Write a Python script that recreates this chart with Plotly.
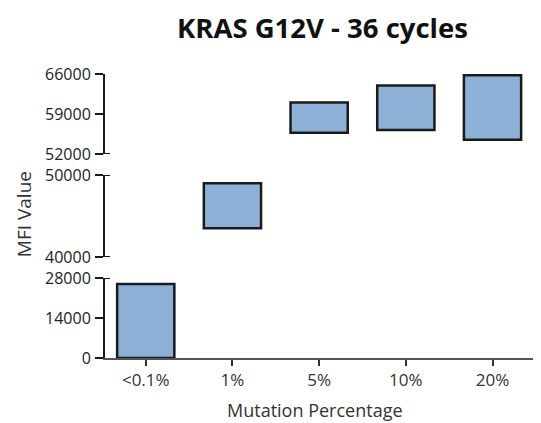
import plotly.graph_objects as go

categories = ["<0.1%", "1%", "5%", "10%", "20%"]
low_vals = [0, 43500, 55700, 56200, 54500]
high_vals = [25900, 49000, 61000, 64000, 65800]

# broken y-axis segments: (range, ticks)
seg_ranges = [[0, 28000], [40000, 50000], [52000, 66000]]
seg_ticks = [[0, 14000, 28000], [40000, 50000], [52000, 59000, 66000]]
seg_domains = [[0.0, 0.2817], [0.3556, 0.6444], [0.7183, 1.0]]
axis_names = ["y", "y2", "y3"]

fig = go.Figure()
for si, (rng, name) in enumerate(zip(seg_ranges, axis_names)):
    xs, bases, heights = [], [], []
    for c, lo, hi in zip(categories, low_vals, high_vals):
        if lo >= rng[0] and hi <= rng[1]:
            xs.append(c)
            bases.append(lo)
            heights.append(hi - lo)
    fig.add_trace(go.Bar(
        x=xs, y=heights, base=bases, yaxis=name, xaxis="x",
        width=0.66,
        marker=dict(color="#8DB0D7", line=dict(color="#1a1a1a", width=2.5)),
        showlegend=False, hoverinfo="skip",
    ))

ytickfont = dict(family="Open Sans", size=16, color="#222")
xtickfont = dict(family="Open Sans", size=17, color="#333")
layout_axes = {}
for si, name in enumerate(axis_names):
    key = "yaxis" if name == "y" else "yaxis" + name[1:]
    layout_axes[key] = dict(
        domain=seg_domains[si], range=seg_ranges[si], tickvals=seg_ticks[si],
        ticktext=[str(v) for v in seg_ticks[si]],
        showgrid=False, zeroline=False, showline=True, linecolor="#1a1a1a",
        linewidth=2, ticks="outside", ticklen=8, tickwidth=2, tickcolor="#1a1a1a",
        tickfont=ytickfont, anchor="x", ticklabelstandoff=1,
    )

fig.update_layout(
    width=533, height=415,
    margin=dict(l=97, r=6, t=66, b=65),
    paper_bgcolor="white", plot_bgcolor="white",
    title=dict(text="<b>KRAS G12V - 36 cycles</b>", xref="container",
               x=0.590, xanchor="center", yref="container",
               y=0.9506, yanchor="middle",
               font=dict(family="Open Sans", size=27.5, color="#111")),
    xaxis=dict(
        type="category", range=[-0.47, 4.49], showgrid=False, zeroline=False,
        showline=True, linecolor="#555", linewidth=2, ticks="outside",
        ticklen=6, tickwidth=2, tickcolor="#333", tickfont=xtickfont,
        anchor="y",
    ),
    **layout_axes,
)

# break caps on segment ends (short marks right of the axis line)
caps = [("y", 28000), ("y2", 40000), ("y2", 50000), ("y3", 52000)]
for yr, val in caps:
    fig.add_shape(type="line", xref="paper", xsizemode="pixel", xanchor=0,
                  x0=-1, x1=5, yref=yr, y0=val, y1=val,
                  line=dict(color="#1a1a1a", width=2))

fig.add_annotation(text="MFI Value", xref="paper", yref="paper",
                   x=-0.188, y=0.507, textangle=-90, showarrow=False,
                   xanchor="center", yanchor="middle",
                   font=dict(family="Open Sans", size=19, color="#333"))
fig.add_annotation(text="Mutation Percentage", xref="paper", yref="paper",
                   x=0.488, y=-0.183, showarrow=False,
                   xanchor="center", yanchor="middle",
                   font=dict(family="Open Sans", size=18, color="#333"))

fig.write_html("out.html")
